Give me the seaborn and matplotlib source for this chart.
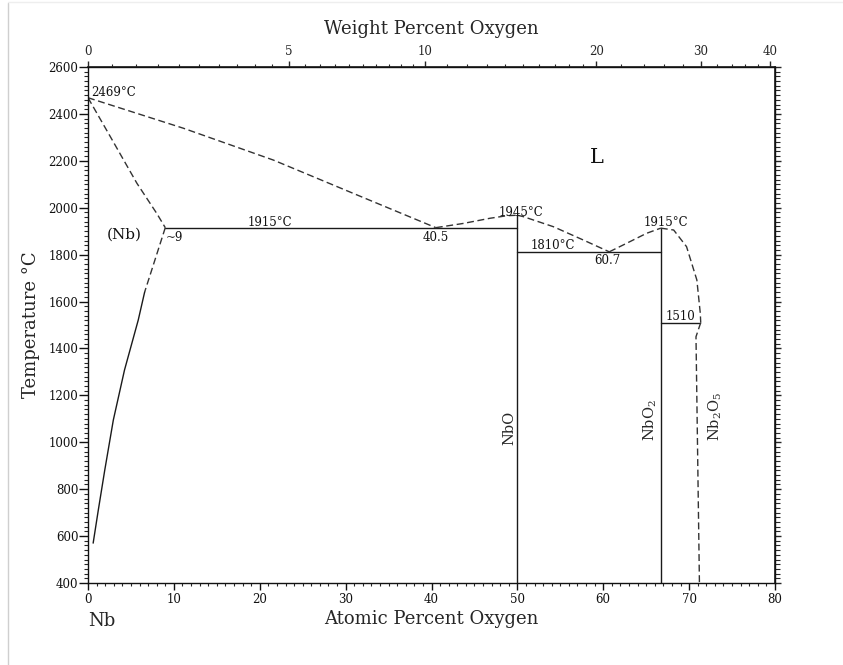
import numpy as np
import pandas as pd
import matplotlib
matplotlib.use("Agg")
import matplotlib.pyplot as plt
from matplotlib.lines import Line2D
import seaborn as sns

sns.set_theme(style="white")
plt.rcParams['font.family'] = ['DejaVu Serif']
plt.rcParams['mathtext.fontset'] = 'dejavuserif'

# ---------------- data (atomic % O, temperature °C) ----------------
liq_nb_x = [0, 11.1, 21.6, 30.9, 40.5]
liq_nb_T = [2469, 2339, 2203, 2061, 1915]

sol_nb_x = [0, 2.6, 5.7, 8.0, 9.0]
sol_nb_T = [2469, 2303, 2104, 1976, 1915]

solvus_dash_x = [9.0, 6.6]
solvus_dash_T = [1915, 1641]
solvus_x = [6.6, 5.85, 4.25, 2.95, 1.95, 1.2, 0.6]
solvus_T = [1641, 1521, 1308, 1095, 881, 711, 570]

liq_nbo_a_x = [40.5, 43.7, 46.8, 48.8, 50.0]
liq_nbo_a_T = [1915, 1933, 1955, 1966, 1968]
liq_nbo_b_x = [50.0, 50.7, 54.2, 57.7, 60.7]
liq_nbo_b_T = [1968, 1962, 1919, 1862, 1812]
liq_nbo2_a_x = [60.7, 62.7, 65.05, 66.7]
liq_nbo2_a_T = [1812, 1848, 1891, 1913]
liq_nbo2_b_x = [66.7, 68.2, 69.7, 70.9, 71.3, 71.35]
liq_nbo2_b_T = [1913, 1905, 1834, 1692, 1550, 1510]
nb2o5_x = [71.35, 70.8, 71.2]
nb2o5_T = [1510, 1450, 400]

eut1_x = [9.0, 50.0]
eut1_T = [1915, 1915]
eut2_x = [50.0, 66.7]
eut2_T = [1812, 1812]
eut3_x = [66.7, 71.3]
eut3_T = [1510, 1510]
nbo_x = [50.0, 50.0]
nbo_T = [1968, 400]
nbo2_x = [66.7, 66.7]
nbo2_T = [1913, 400]

solid_segments = [(eut1_x, eut1_T), (eut2_x, eut2_T), (eut3_x, eut3_T),
                  (nbo_x, nbo_T), (nbo2_x, nbo2_T), (solvus_x, solvus_T)]
dashed_segments = [(liq_nb_x, liq_nb_T), (sol_nb_x, sol_nb_T),
                   (solvus_dash_x, solvus_dash_T),
                   (liq_nbo_a_x, liq_nbo_a_T), (liq_nbo_b_x, liq_nbo_b_T),
                   (liq_nbo2_a_x, liq_nbo2_a_T), (liq_nbo2_b_x, liq_nbo2_b_T),
                   (nb2o5_x, nb2o5_T)]

bottom_ticks = [0, 10, 20, 30, 40, 50, 60, 70, 80]
left_ticks = [400, 600, 800, 1000, 1200, 1400, 1600, 1800, 2000, 2200, 2400, 2600]
top_ticks_wt = [0, 5, 10, 20, 30, 40]

labels_txt = ["2469°C", "(Nb)", "~9", "1915°C", "40.5", "1945°C", "1810°C",
              "60.7", "1915°C", "1510"]
labels_x = [0.35, 4.2, 9.1, 21.2, 40.5, 50.4, 54.15, 60.45, 67.3, 69.05]
labels_T = [2493, 1884, 1873, 1939, 1873, 1980, 1841, 1773, 1939, 1538]

# ---------------- figure ----------------
fig = plt.figure(figsize=(8.43, 6.65), dpi=100, facecolor="white")
ax = fig.add_axes([88 / 843, 1 - 583 / 665, 687 / 843, 516 / 665])
ax.set_facecolor("white")

for xs, ts in solid_segments:
    sns.lineplot(x=xs, y=ts, ax=ax, sort=False, estimator=None,
                 color="#1a1a1a", lw=1.0)
for xs, ts in dashed_segments:
    sns.lineplot(x=xs, y=ts, ax=ax, sort=False, estimator=None,
                 color="#333333", lw=1.0, dashes=False,
                 linestyle=(0, (5, 2.6)))

ax.set_xlim(0, 80)
ax.set_ylim(400, 2600)
for s in ax.spines.values():
    s.set_color("#111111")
    s.set_linewidth(1.0)

ax.set_xticks(bottom_ticks)
ax.set_xticklabels([str(t) for t in bottom_ticks], fontsize=8.5)
ax.set_xticks(np.arange(0, 81, 1), minor=True)
ax.set_yticks(left_ticks)
ax.set_yticklabels([str(t) for t in left_ticks], fontsize=8.5)
ax.set_yticks(np.arange(400, 2601, 20), minor=True)
ax.tick_params(axis="x", which="major", direction="out", length=5, width=1,
               pad=2, bottom=True, colors="#111111")
ax.tick_params(axis="x", which="minor", direction="out", length=2, width=0.8,
               bottom=True)
ax.tick_params(axis="y", which="major", direction="out", length=6.5, width=1,
               pad=0.5, left=True, colors="#111111")
ax.tick_params(axis="y", which="minor", direction="out", length=3, width=0.8,
               left=True)

ax.set_xlabel("Atomic Percent Oxygen", fontsize=13, labelpad=3)
ax.set_ylabel("Temperature °C", fontsize=13, labelpad=6)


# top axis: weight percent oxygen
def at2wt(a):
    a = np.asarray(a, dtype=float)
    return 100 * a * 16.00 / (a * 16.00 + (100 - a) * 92.906)


def wt2at(w):
    w = np.asarray(w, dtype=float)
    return 100 * (w / 16.00) / (w / 16.00 + (100 - w) / 92.906)


top = ax.secondary_xaxis("top", functions=(at2wt, wt2at))
top.set_xticks(top_ticks_wt)
top.set_xticklabels([str(t) for t in top_ticks_wt], fontsize=8.5)
minor_wt = list(np.arange(0, 10, 0.5)) + list(np.arange(10, 20, 1)) + list(np.arange(20, 40.1, 2))
top.set_xticks(minor_wt, minor=True)
top.tick_params(which="major", direction="out", length=4.5, width=1, pad=2)
top.tick_params(which="minor", direction="out", length=2, width=0.8)
top.set_xlabel("Weight Percent Oxygen", fontsize=13, labelpad=8)

right = ax.secondary_yaxis("right")
right.set_yticks(left_ticks)
right.set_yticklabels([])
right.set_yticks(np.arange(400, 2601, 20), minor=True)
right.tick_params(which="major", direction="out", length=4, width=1)
right.tick_params(which="minor", direction="out", length=3.5, width=0.8)

# annotations
for t, x, y in zip(labels_txt, labels_x, labels_T):
    ha = "left" if t in ("2469°C", "~9") else "center"
    fs = 11 if t == "(Nb)" else 8.5
    ax.text(x, y, t, ha=ha, va="center", fontsize=fs, color="#111111")

ax.text(59.2, 2216, "L", ha="center", va="center", fontsize=15, color="#111111")
ax.text(49.1, 1061, "NbO", rotation=90, ha="center", va="center", fontsize=10.5)
ax.text(65.45, 1095, r"NbO$_2$", rotation=90, ha="center", va="center", fontsize=10.5)
ax.text(73.1, 1112, r"Nb$_2$O$_5$", rotation=90, ha="center", va="center", fontsize=10.5)

fig.text(102 / 843, 1 - 621 / 665, "Nb", ha="center", va="center", fontsize=13)

# light frame of the original picture
fig.add_artist(Line2D([8 / 843, 8 / 843], [0, 1 - 3 / 665], transform=fig.transFigure,
                      color="#cfcfcf", lw=1.0))
fig.add_artist(Line2D([8 / 843, 1], [1 - 2 / 665, 1 - 2 / 665], transform=fig.transFigure,
                      color="#eeeeee", lw=1.0))

fig.savefig("out.png", dpi=100, facecolor="white")
